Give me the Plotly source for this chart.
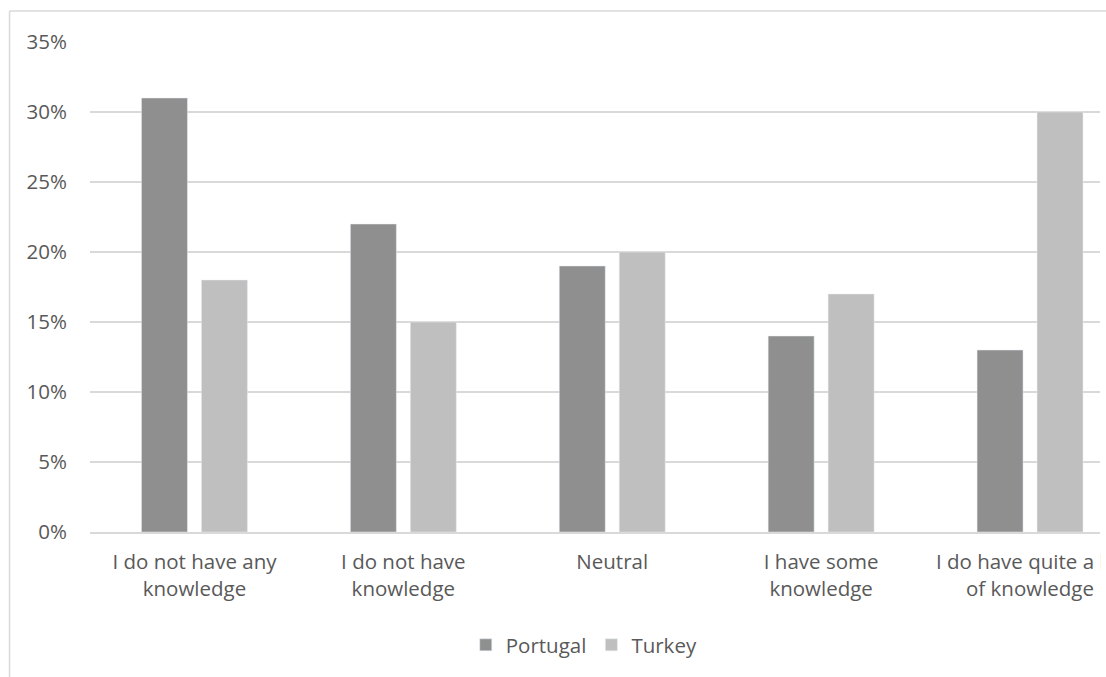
import plotly.graph_objects as go

categories = ["I do not have any<br>knowledge", "I do not have<br>knowledge", "Neutral",
              "I have some<br>knowledge", "I do have quite a lot<br>of knowledge"]
portugal = [0.31, 0.22, 0.19, 0.14, 0.13]
turkey = [0.18, 0.15, 0.20, 0.17, 0.30]
y_ticks = [0, 0.05, 0.10, 0.15, 0.20, 0.25, 0.30, 0.35]

W, H = 1106, 677
L, R, T, B = 89.5, 6, 42, 145
pw = W - L - R
ph = H - T - B
unit = 209.0  # px per category

def px_x(p):
    return (p - L) / pw

def px_y(p):
    return (H - B - p) / ph

FONT = "Open Sans"
TXT = "#595959"
FS = 20.5

fig = go.Figure()
fig.add_trace(go.Bar(name="Portugal", x=list(range(5)), y=portugal, marker_color="#8f8f8f"))
fig.add_trace(go.Bar(name="Turkey", x=list(range(5)), y=turkey, marker_color="#bfbfbf"))

fig.update_layout(
    width=W, height=H, autosize=False,
    margin=dict(l=L, r=R, t=T, b=B, pad=0, autoexpand=False),
    paper_bgcolor="white", plot_bgcolor="white",
    barmode="group", bargap=0.426, bargroupgap=0.233,
    font=dict(family=FONT, size=FS, color=TXT),
    showlegend=True,
    legend=dict(orientation="h", x=px_x(584), y=px_y(645), xanchor="center", yanchor="middle",
                font=dict(size=FS, color=TXT), itemwidth=30, traceorder="normal"),
    xaxis=dict(tickmode="array", tickvals=list(range(5)), ticktext=categories,
               range=[-0.5, -0.5 + pw / unit], showgrid=False, zeroline=False,
               showline=True, linecolor="#d9d9d9", linewidth=1.5, ticks="",
               ticklabeloverflow="allow", ticklabelstandoff=11, automargin=False,
               tickfont=dict(size=FS, color=TXT), fixedrange=True),
    yaxis=dict(range=[0, 0.35], tickvals=y_ticks, tickformat=".0%", showgrid=True,
               gridcolor="#d9d9d9", gridwidth=1.5, zeroline=False, showline=False, ticks="",
               ticklabelstandoff=22, automargin=False,
               tickfont=dict(size=FS, color=TXT), fixedrange=True),
)

# clip spill beyond the cropped right edge (reference image is cropped there)
fig.add_shape(type="rect", xref="paper", yref="paper", x0=px_x(1100.5), x1=px_x(1120),
              y0=px_y(700), y1=px_y(-10), fillcolor="white", line_width=0, layer="above")
# chart area border (left & top visible)
fig.add_shape(type="line", xref="paper", yref="paper", x0=px_x(9), x1=px_x(9),
              y0=px_y(11), y1=px_y(690), line=dict(color="#d9d9d9", width=1.5), layer="above")
fig.add_shape(type="line", xref="paper", yref="paper", x0=px_x(9), x1=px_x(1120),
              y0=px_y(11), y1=px_y(11), line=dict(color="#d9d9d9", width=1.5), layer="above")

fig.write_html("out.html")
